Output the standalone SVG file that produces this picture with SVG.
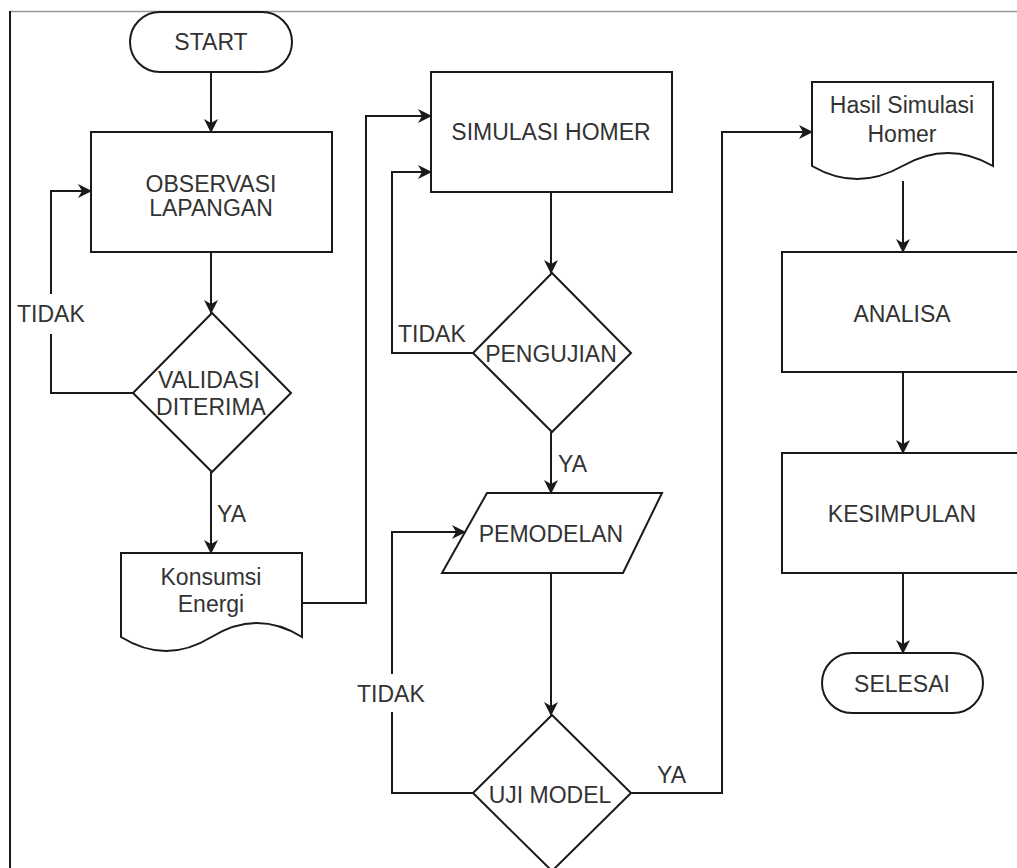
<svg xmlns="http://www.w3.org/2000/svg" width="1017" height="868" viewBox="0 0 1017 868">
<defs>
<style>
.s{fill:#fff;stroke:#1a1a1a;stroke-width:2}
.c{fill:none;stroke:#1a1a1a;stroke-width:2}
.t{font-family:"Liberation Sans",Arial,sans-serif;font-size:23px;fill:#333;text-anchor:middle}
.l{font-family:"Liberation Sans",Arial,sans-serif;font-size:23px;fill:#333}
.bg{fill:#fff;stroke:none}
</style>
<marker id="arr" viewBox="0 0 14 14" markerWidth="14" markerHeight="14" refX="13" refY="7" orient="auto" markerUnits="userSpaceOnUse">
<path d="M0,0 L14,7 L0,14 L4,7 z" fill="#1a1a1a"/>
</marker>
</defs>
<rect x="0" y="0" width="1017" height="868" fill="#fff"/>
<g id="frame">
<line x1="10" y1="11.5" x2="1017" y2="11.5" stroke="#999" stroke-width="1.5"/>
<line x1="10" y1="11" x2="10" y2="868" stroke="#1a1a1a" stroke-width="2"/>
</g>
<g id="connectors">
<path class="c" d="M211,72 V132" marker-end="url(#arr)"/>
<path class="c" d="M211,252 V313" marker-end="url(#arr)"/>
<path class="c" d="M133,393 H51 V191 H91" marker-end="url(#arr)"/>
<path class="c" d="M211,472 V553" marker-end="url(#arr)"/>
<path class="c" d="M302,603 H366 V116 H431" marker-end="url(#arr)"/>
<path class="c" d="M551,192 V273" marker-end="url(#arr)"/>
<path class="c" d="M473,353 H392 V172 H431" marker-end="url(#arr)"/>
<path class="c" d="M551,432 V493" marker-end="url(#arr)"/>
<path class="c" d="M551,573 V715" marker-end="url(#arr)"/>
<path class="c" d="M473,793 H392 V532 H465" marker-end="url(#arr)"/>
<path class="c" d="M631,793 H722 V132 H812" marker-end="url(#arr)"/>
<path class="c" d="M903,181 V252" marker-end="url(#arr)"/>
<path class="c" d="M903,372 V453" marker-end="url(#arr)"/>
<path class="c" d="M903,573 V653" marker-end="url(#arr)"/>
<rect class="bg" x="14" y="294" width="76" height="40"/>
<text class="l" x="17" y="322">TIDAK</text>
<text class="l" x="217" y="522">YA</text>
<text class="l" x="398" y="342">TIDAK</text>
<text class="l" x="558" y="472">YA</text>
<rect class="bg" x="354" y="674" width="76" height="38"/>
<text class="l" x="357" y="702">TIDAK</text>
<text class="l" x="657" y="783">YA</text>
</g>
<g id="start">
<rect class="s" x="130" y="12" width="162" height="60" rx="30" ry="30"/>
<text class="t" x="211" y="50">START</text>
</g>
<g id="observasi">
<rect class="s" x="91" y="132" width="241" height="120"/>
<text class="t" x="211" y="192">OBSERVASI</text>
<text class="t" x="211" y="216">LAPANGAN</text>
</g>
<g id="validasi">
<polygon class="s" points="212,313 291,393 212,472 133,393"/>
<text class="t" x="209" y="388">VALIDASI</text>
<text class="t" x="211" y="415">DITERIMA</text>
</g>
<g id="konsumsi">
<path class="s" d="M121,553 H302 V637 Q257,609 211.5,637 Q166,665 121,637 Z"/>
<text class="t" x="211" y="585">Konsumsi</text>
<text class="t" x="211" y="612">Energi</text>
</g>
<g id="simulasi">
<rect class="s" x="431" y="72" width="241" height="120"/>
<text class="t" x="551" y="140">SIMULASI HOMER</text>
</g>
<g id="pengujian">
<polygon class="s" points="552,273 631,353 552,432 473,353"/>
<text class="t" x="551" y="362">PENGUJIAN</text>
</g>
<g id="pemodelan">
<polygon class="s" points="487,493 662,493 623,573 442,573"/>
<text class="t" x="551" y="542">PEMODELAN</text>
</g>
<g id="ujimodel">
<polygon class="s" points="552,715 631,793 552,871 473,793"/>
<text class="t" x="550" y="803">UJI MODEL</text>
</g>
<g id="hasil">
<path class="s" d="M812,82 H993 V166 Q948,140 902.5,166 Q857,192 812,166 Z"/>
<text class="t" x="902" y="113">Hasil Simulasi</text>
<text class="t" x="902" y="142">Homer</text>
</g>
<g id="analisa">
<rect class="s" x="782" y="252" width="242" height="120"/>
<text class="t" x="902" y="322">ANALISA</text>
</g>
<g id="kesimpulan">
<rect class="s" x="782" y="453" width="242" height="120"/>
<text class="t" x="902" y="522">KESIMPULAN</text>
</g>
<g id="selesai">
<rect class="s" x="822" y="653" width="161" height="60" rx="30" ry="30"/>
<text class="t" x="902" y="692">SELESAI</text>
</g>
</svg>
